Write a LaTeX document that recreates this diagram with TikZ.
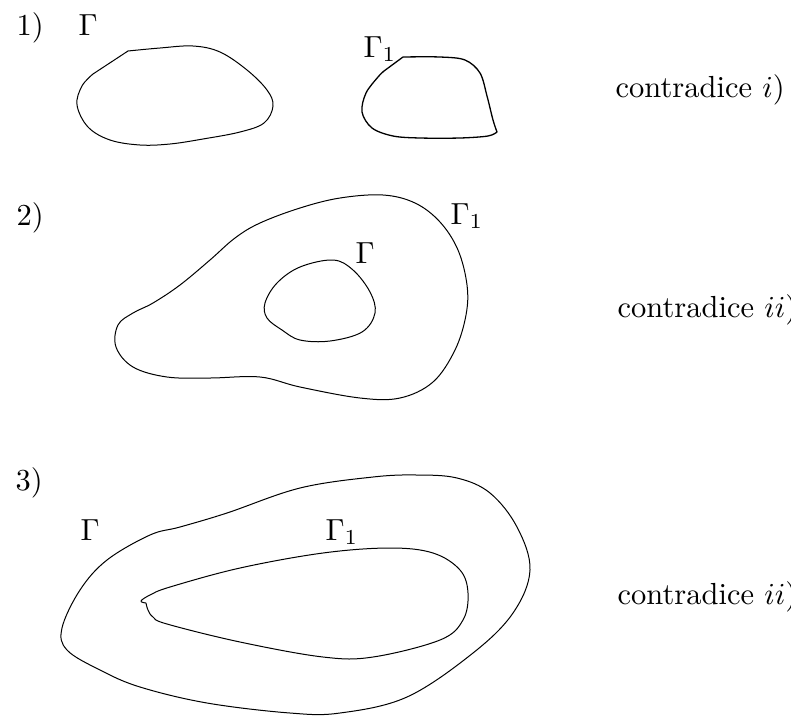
\documentclass[tikz,border=0pt]{standalone}
\begin{document}
\begin{tikzpicture}[x=1pt,y=-1pt,
  lbl/.style={inner sep=0pt, anchor=base west, scale=3.05},
  curve/.style={line width=1pt, line join=round}]
\useasboundingbox (0,0) rectangle (791,715);
% ---------- row 1 ----------
\node[lbl] (n1) at (16,35) {1)};
\node[lbl] (g1) at (78,35) {$\Gamma$};
\node[lbl] (g11) at (363,57) {$\Gamma_1$};
\node[lbl] (c1) at (615,97) {contradice $i)$};
\draw[curve] plot[smooth, tension=0.6] coordinates {
  (128,51) (160,48) (193,46) (220,52) (247,70) (267,90) (273,106) (264,123)
  (240,132) (203,139) (170,144) (140,145) (110,140) (88,127) (77,105)
  (82,86) (93,74)} -- cycle;
\draw[curve, line width=1.3pt] plot[smooth, tension=0.55] coordinates {
  (403,57) (440,57) (465,60) (480,73) (487,96) (493,120) (497,132)}
  -- plot[smooth, tension=0.55] coordinates {
  (497,132) (488,136) (460,138) (420,138) (393,136) (372,128) (362,112)
  (366,93) (378,77) (384,71)} -- cycle;
% ---------- row 2 ----------
\node[lbl] (n2) at (16,225) {2)};
\node[lbl] (g21) at (450,224) {$\Gamma_1$};
\node[lbl] (g2) at (355,263) {$\Gamma$};
\node[lbl] (c2) at (617,317) {contradice $ii)$};
\draw[curve] plot[smooth cycle, tension=0.6] coordinates {
  (383,195) (415,203) (440,222) (458,250) (467,285) (466,315) (455,350)
  (433,382) (400,398) (360,398) (300,387) (260,377) (210,378) (167,377)
  (133,367) (116,347) (118,325) (133,313) (153,303) (180,285) (210,260)
  (235,238) (260,223) (300,208) (340,198)};
\draw[curve] plot[smooth cycle, tension=0.6] coordinates {
  (333,260) (353,270) (370,292) (375,313) (362,332) (330,341) (300,340)
  (282,330) (267,318) (265,303) (277,283) (300,267)};
% ---------- row 3 ----------
\node[lbl] (n3) at (15,490) {3)};
\node[lbl] (g3) at (80,540) {$\Gamma$};
\node[lbl] (g31) at (325,540) {$\Gamma_1$};
\node[lbl] (c3) at (617,604) {contradice $ii)$};
\draw[curve] plot[smooth cycle, tension=0.6] coordinates {
  (417,475) (457,478) (490,493) (517,527) (530,570) (513,613) (473,653)
  (407,697) (340,713) (290,713) (207,703) (140,687) (100,670) (67,650)
  (62,628) (80,590) (107,560) (150,535) (180,527) (227,513) (300,488)
  (373,477)};
\draw[curve] plot[smooth, tension=0.6] coordinates {
  (146,603) (148,610) (153,617) (167,624) (240,642) (323,657) (373,657)
  (440,640) (463,620) (468,593) (460,570) (433,553) (390,548) (323,553)
  (240,568) (170,587) (150,595) (141,601) (146,603)};
\end{tikzpicture}
\end{document}
